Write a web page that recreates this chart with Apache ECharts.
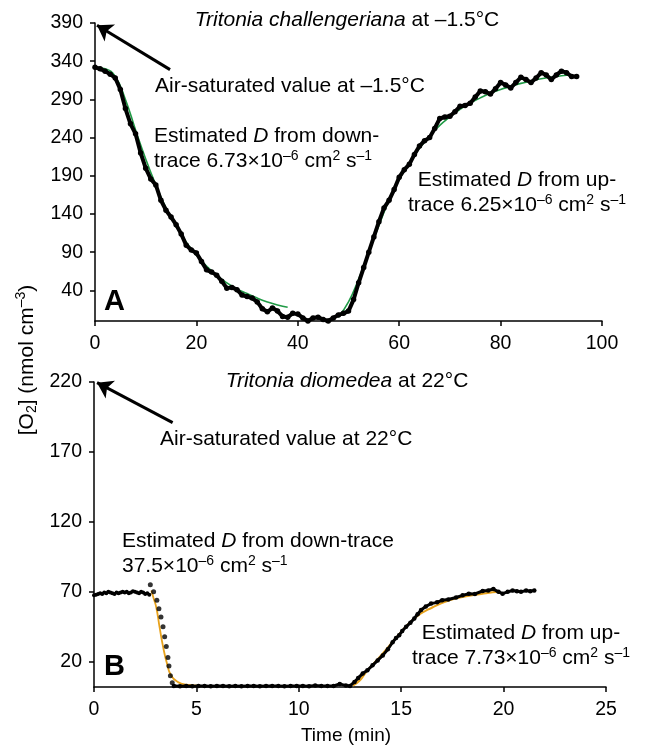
<!DOCTYPE html>
<html>
<head>
<meta charset="utf-8">
<script src="https://cdn.jsdelivr.net/npm/echarts@6/dist/echarts.min.js"></script>
<style>html,body{margin:0;padding:0;background:#fff}#c{width:645px;height:748px}</style>
</head>
<body>
<div id="c"></div>
<script>
// ---------- Data ----------
// Panel A: Tritonia challengeriana at -1.5°C, time (min) vs [O2]
const topTime = [0,1,2,3,4,5,6,7,8,9,10,11,12,13,14,15,16,17,18,19,20,21,22,23,24,25,26,27,28,29,30,31,32,33,34,35,36,37,38,39,40,41,42,43,44,45,46,47,48,49,50,51,52,53,54,55,56,57,58,59,60,61,62,63,64,65,66,67,68,69,70,71,72,73,74,75,76,77,78,79,80,81,82,83,84,85,86,87,88,89,90,91,92,93,94,95];
const topO2 = [332,330,327,323,318,303,278,258,245,220,200,186,178,158,145,136,126,114,99,93,89,78,67,64,60,52,43,44,41,34,32,30,25,16,12,17,13,6,5,10,9,4,0,4,5,2,0,4,8,10,13,28,50,70,90,110,130,148,158,172,188,198,205,218,229,236,240,252,265,267,268,274,281,282,285,293,301,300,297,304,312,309,305,312,319,316,312,318,325,322,316,322,327,325,320,320];
const topFitDownTime = [0,2,4,6,8,10,12,14,16,18,20,22,24,26,28,30,32,34,36,38];
const topFitDownO2 = [332,330,320,290,250,212,178,148,124,103,86,72,60,50,42,36,30,25,21,18];
const topFitUpTime = [48,50,52,54,56,58,60,62,64,66,68,70,72,74,76,78,80,82,84,86,88,90,92,94];
const topFitUpO2 = [5,25,55,90,125,158,185,207,226,242,256,267,277,285,292,298,303,307,311,314,317,319,321,322];

// Panel B: Tritonia diomedea at 22°C
const botStartTime = [0,0.1,0.2,0.3,0.4,0.5,0.6,0.7,0.8,0.9,1.0,1.1,1.2,1.3,1.4,1.5,1.6,1.7,1.8,1.9,2.0,2.1,2.2,2.3,2.4,2.5,2.6,2.7];
const botStartO2 = [67.5,68,68.5,69,68.5,69.5,69,70,69.5,69,68.5,69.5,69,69.5,70,69.5,70,69,69.5,70.5,70,69.5,69,70,69.5,68.5,69,68];
const botDownTime = [2.75,2.91,3.07,3.17,3.27,3.37,3.45,3.53,3.61,3.66,3.73,3.82];
const botDownO2 = [75,70,64,58,52,45,38,31,23,17,10,5];
const botRestTime = [3.9,4.2,4.5,4.8,5.1,5.4,5.7,6.0,6.3,6.6,6.9,7.2,7.5,7.8,8.1,8.4,8.7,9.0,9.3,9.6,9.9,10.2,10.5,10.8,11.1,11.4,11.7,12.0,12.3,12.5,12.72,12.9,13.12,13.35,13.6,13.85,14.1,14.35,14.58,14.75,14.9,15.05,15.24,15.45,15.64,15.8,15.97,16.2,16.46,16.75,17.0,17.3,17.68,18.0,18.3,18.6,18.98,19.25,19.5,19.75,19.95,20.2,20.44,20.65,20.85,21.1,21.3,21.5];
const botRestO2 = [2.8,2.6,2.7,2.6,2.8,2.7,2.6,2.7,2.8,2.6,2.7,2.6,2.8,2.7,2.6,2.7,2.8,2.7,2.6,2.7,2.8,2.7,2.6,3.0,2.7,2.8,2.7,4.2,3.0,2.8,5.6,8.5,11.6,14,17.5,21,24.6,29,34,37,39,42,45,48,51,54,57,59.5,61.6,62.5,64,64.5,66,67.5,68.7,68.5,70.6,71,72,70,68.7,70,71,70.5,70,71,70.5,71];
const botFitDownTime = [2.8,2.9,3.04,3.2,3.37,3.56,3.77,4.1,4.5,5.15];
const botFitDownO2 = [71,66,59,45,31,19,10,5.5,3.7,3];
const botFitUpTime = [12.64,13.0,13.29,14.1,14.91,15.73,16.54,17.35,18.17,19.14,19.8];
const botFitUpO2 = [3,7,12.7,26,40,52,59,64,66.8,69,70];

// Axis ticks
const topXTicks = {min: 0, max: 100, interval: 20};
const topYTicks = [40,90,140,190,240,290,340,390];
const botXTicks = {min: 0, max: 25, interval: 5};
const botYTicks = [20,70,120,170,220];

// Arrow endpoints (data coordinates)
const topArrow = [[14.8, 329], [0.4, 387]];
const botArrow = [[3.84, 191], [0.15, 219.5]];

// ---------- Helpers ----------
const zip = (a, b) => a.map((x, i) => [x, b[i]]);
const FONT = 'Liberation Sans, Arial, sans-serif';
const GREEN = '#1f9a45';
const ORANGE = '#e8a21c';
const TICK_FS = 19.5;
const ANN_FS = 21;
const SUP_FS = 14;

function xAxis(idx, t) {
  return {
    type: 'value', gridIndex: idx, min: t.min, max: t.max, interval: t.interval,
    axisLine: {show: true, onZero: false, lineStyle: {color: '#000', width: 1.5}},
    axisTick: {show: true, length: 5, lineStyle: {color: '#000', width: 1.5}},
    axisLabel: {color: '#000', fontSize: TICK_FS, fontFamily: FONT, margin: 13},
    splitLine: {show: false}
  };
}
function yAxis(idx, min, max, ticks) {
  return {
    type: 'value', gridIndex: idx, min: min, max: max,
    axisLine: {show: true, onZero: false, lineStyle: {color: '#000', width: 1.5}},
    axisTick: {show: true, length: 5, customValues: ticks, lineStyle: {color: '#000', width: 1.5}},
    axisLabel: {color: '#000', fontSize: TICK_FS, fontFamily: FONT, margin: 12, customValues: ticks},
    splitLine: {show: false}
  };
}
const richBase = {
  i: {fontStyle: 'italic', fontSize: ANN_FS, fontFamily: FONT, color: '#000', lineHeight: 25},
  sup: {fontSize: SUP_FS, fontFamily: FONT, color: '#000', verticalAlign: 'top', lineHeight: 25},
  sub: {fontSize: SUP_FS, fontFamily: FONT, color: '#000', verticalAlign: 'bottom', lineHeight: 24},
  b: {fontSize: ANN_FS, fontFamily: FONT, color: '#000', lineHeight: 25}
};
function txt(x, y, text, align, extra) {
  return Object.assign({
    type: 'text', x: x, y: y, silent: true,
    style: {
      text: text, fill: '#000', fontSize: ANN_FS, fontFamily: FONT,
      align: align || 'left', verticalAlign: 'middle', lineHeight: 25, rich: richBase
    }
  }, extra || {});
}
function bigLetter(x, y, s) {
  return {type: 'text', x: x, y: y, silent: true,
    style: {text: s, fill: '#000', fontSize: 29, fontWeight: 'bold', fontFamily: FONT, align: 'left', verticalAlign: 'middle'}};
}

const chart = echarts.init(document.getElementById('c'), null, {renderer: 'canvas'});
chart.setOption({
  animation: false,
  backgroundColor: '#fff',
  grid: [
    {left: 95, top: 23, width: 507, height: 298},
    {left: 94, top: 382, width: 512, height: 305}
  ],
  xAxis: [xAxis(0, topXTicks), xAxis(1, botXTicks)],
  yAxis: [yAxis(0, 0, 390, topYTicks), yAxis(1, 2, 220, botYTicks)],
  series: [
    {type: 'line', xAxisIndex: 0, yAxisIndex: 0, data: zip(topFitDownTime, topFitDownO2), smooth: true,
     showSymbol: false, lineStyle: {color: GREEN, width: 1.6}, z: 2,
     markLine: {silent: true, symbol: ['none', 'arrow'], symbolSize: 15, label: {show: false},
       lineStyle: {color: '#000', width: 3, type: 'solid'},
       data: [[{coord: topArrow[0]}, {coord: topArrow[1]}]]}},
    {type: 'line', xAxisIndex: 0, yAxisIndex: 0, data: zip(topFitUpTime, topFitUpO2), smooth: true,
     showSymbol: false, lineStyle: {color: GREEN, width: 1.6}, z: 2},
    {type: 'line', xAxisIndex: 0, yAxisIndex: 0, data: zip(topTime, topO2),
     symbol: 'circle', symbolSize: 5.5, showSymbol: true, itemStyle: {color: '#000'},
     lineStyle: {color: '#000', width: 4}, z: 3},

    {type: 'line', xAxisIndex: 1, yAxisIndex: 1, data: zip(botFitDownTime, botFitDownO2), smooth: true,
     showSymbol: false, lineStyle: {color: ORANGE, width: 1.8}, z: 2,
     markLine: {silent: true, symbol: ['none', 'arrow'], symbolSize: 15, label: {show: false},
       lineStyle: {color: '#000', width: 3, type: 'solid'},
       data: [[{coord: botArrow[0]}, {coord: botArrow[1]}]]}},
    {type: 'line', xAxisIndex: 1, yAxisIndex: 1, data: zip(botFitUpTime, botFitUpO2), smooth: true,
     showSymbol: false, lineStyle: {color: ORANGE, width: 2}, z: 2},
    {type: 'line', xAxisIndex: 1, yAxisIndex: 1, data: zip(botStartTime, botStartO2),
     symbol: 'circle', symbolSize: 4, showSymbol: true, itemStyle: {color: '#000'},
     lineStyle: {color: '#000', width: 2.5}, z: 3},
    {type: 'scatter', xAxisIndex: 1, yAxisIndex: 1, data: zip(botDownTime, botDownO2),
     symbol: 'circle', symbolSize: 5, itemStyle: {color: '#000'}, z: 3},
    {type: 'line', xAxisIndex: 1, yAxisIndex: 1, data: zip(botRestTime, botRestO2),
     symbol: 'circle', symbolSize: 4.5, showSymbol: true, itemStyle: {color: '#000'},
     lineStyle: {color: '#000', width: 3}, z: 3}
  ],
  graphic: [
    txt(347, 20, '{i|Tritonia challengeriana}{b| at –1.5°C}', 'center'),
    txt(155, 86, 'Air-saturated value at –1.5°C'),
    txt(154, 149, '{b|Estimated }{i|D}{b| from down-}\n{b|trace 6.73×10}{sup|–6}{b| cm}{sup|2}{b| s}{sup|–1}'),
    txt(517, 193, '{b|Estimated }{i|D}{b| from up-}\n{b|trace 6.25×10}{sup|–6}{b| cm}{sup|2}{b| s}{sup|–1}', 'center'),
    bigLetter(104, 302, 'A'),

    txt(347, 381, '{i|Tritonia diomedea}{b| at 22°C}', 'center'),
    txt(160, 439, 'Air-saturated value at 22°C'),
    txt(122, 554, '{b|Estimated }{i|D}{b| from down-trace}\n{b|37.5×10}{sup|–6}{b| cm}{sup|2}{b| s}{sup|–1}'),
    txt(521, 646, '{b|Estimated }{i|D}{b| from up-}\n{b|trace 7.73×10}{sup|–6}{b| cm}{sup|2}{b| s}{sup|–1}', 'center'),
    bigLetter(104, 667, 'B'),

    {type: 'text', x: 346, y: 736, silent: true,
     style: {text: 'Time (min)', fill: '#000', fontSize: 19, fontFamily: FONT, align: 'center', verticalAlign: 'middle'}},
    txt(27, 360, '{b|[O}{sub|2}{b|] (nmol cm}{sup|–3}{b|)}', 'center', {rotation: Math.PI / 2})
  ]
});
</script>
</body>
</html>
